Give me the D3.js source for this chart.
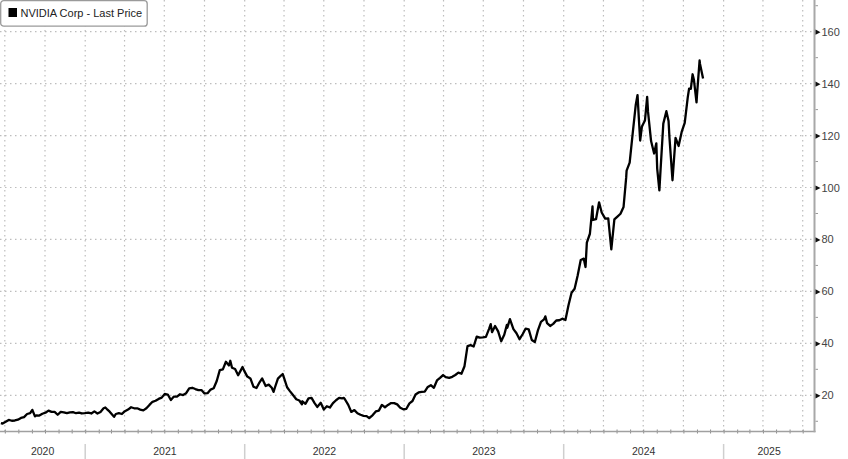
<!DOCTYPE html>
<html>
<head>
<meta charset="utf-8">
<script src="https://cdn.jsdelivr.net/npm/d3@7/dist/d3.min.js"></script>
<style>
  html, body { margin: 0; padding: 0; background: #fff; }
  svg { display: block; font-family: "Liberation Sans", Arial, sans-serif; }
</style>
</head>
<body>
<svg id="chart" width="848" height="459"></svg>
<script>
// ---- data (NVIDIA Corp last price, split adjusted) ----
const seriesName = "NVIDIA Corp - Last Price";
const dates = [
"2020-06-22","2020-06-26","2020-07-02","2020-07-10","2020-07-17","2020-07-24","2020-07-31","2020-08-07","2020-08-14","2020-08-21","2020-08-28","2020-09-02","2020-09-08","2020-09-11","2020-09-18","2020-09-25","2020-10-02","2020-10-09","2020-10-16","2020-10-23","2020-10-30","2020-11-06","2020-11-13","2020-11-20","2020-11-27","2020-12-04","2020-12-11","2020-12-18","2020-12-24","2020-12-31",
"2021-01-08","2021-01-15","2021-01-22","2021-01-29","2021-02-05","2021-02-12","2021-02-16","2021-02-19","2021-02-26","2021-03-05","2021-03-08","2021-03-12","2021-03-19","2021-03-26","2021-04-01","2021-04-09","2021-04-16","2021-04-23","2021-04-30","2021-05-07","2021-05-14","2021-05-21","2021-05-28","2021-06-04","2021-06-11","2021-06-18","2021-06-25","2021-07-02","2021-07-09","2021-07-16","2021-07-23","2021-07-30","2021-08-06","2021-08-13","2021-08-20","2021-08-27","2021-09-03","2021-09-10","2021-09-17","2021-09-24","2021-10-01","2021-10-08","2021-10-15","2021-10-22","2021-10-29","2021-11-05","2021-11-12","2021-11-19","2021-11-26","2021-11-29","2021-12-03","2021-12-10","2021-12-17","2021-12-23","2021-12-27","2021-12-31",
"2022-01-07","2022-01-14","2022-01-21","2022-01-28","2022-02-04","2022-02-10","2022-02-18","2022-02-25","2022-03-04","2022-03-08","2022-03-11","2022-03-18","2022-03-25","2022-03-29","2022-04-01","2022-04-08","2022-04-14","2022-04-22","2022-04-29","2022-05-06","2022-05-12","2022-05-13","2022-05-20","2022-05-27","2022-06-03","2022-06-10","2022-06-16","2022-06-24","2022-07-01","2022-07-08","2022-07-15","2022-07-22","2022-07-29","2022-08-05","2022-08-12","2022-08-16","2022-08-19","2022-08-26","2022-09-02","2022-09-09","2022-09-16","2022-09-23","2022-09-30","2022-10-07","2022-10-13","2022-10-21","2022-10-28","2022-11-04","2022-11-11","2022-11-18","2022-11-25","2022-12-02","2022-12-09","2022-12-16","2022-12-23","2022-12-30",
"2023-01-06","2023-01-13","2023-01-20","2023-01-27","2023-02-03","2023-02-10","2023-02-17","2023-02-24","2023-03-03","2023-03-10","2023-03-17","2023-03-24","2023-03-31","2023-04-06","2023-04-14","2023-04-21","2023-04-28","2023-05-05","2023-05-12","2023-05-19","2023-05-25","2023-05-26","2023-06-02","2023-06-09","2023-06-16","2023-06-23","2023-06-30","2023-07-07","2023-07-14","2023-07-18","2023-07-21","2023-07-28","2023-08-04","2023-08-11","2023-08-18","2023-08-24","2023-08-25","2023-08-31","2023-09-08","2023-09-15","2023-09-22","2023-09-29","2023-10-06","2023-10-13","2023-10-20","2023-10-27","2023-11-03","2023-11-10","2023-11-17","2023-11-20","2023-11-24","2023-12-01","2023-12-08","2023-12-15","2023-12-22","2023-12-29",
"2024-01-05","2024-01-12","2024-01-19","2024-01-26","2024-02-02","2024-02-09","2024-02-16","2024-02-20","2024-02-23","2024-03-01","2024-03-07","2024-03-08","2024-03-15","2024-03-22","2024-03-28","2024-04-05","2024-04-12","2024-04-19","2024-04-26","2024-05-03","2024-05-10","2024-05-17","2024-05-23","2024-05-24","2024-05-31","2024-06-07","2024-06-14","2024-06-18","2024-06-21","2024-06-24","2024-06-28","2024-07-05","2024-07-10","2024-07-12","2024-07-19","2024-07-26","2024-07-31","2024-08-02","2024-08-07","2024-08-09","2024-08-16","2024-08-23","2024-08-28","2024-08-30","2024-09-06","2024-09-13","2024-09-20","2024-09-27","2024-10-04","2024-10-11","2024-10-14","2024-10-18","2024-10-22","2024-10-25","2024-10-31","2024-11-01","2024-11-07","2024-11-08","2024-11-15"
];
const prices = [
9.3,9.1,9.7,10.5,10.2,10.3,10.6,11.3,11.6,12.8,13.1,14.4,11.9,12.3,12.2,12.9,13.3,14.1,13.6,13.6,12.5,13.6,13.4,13.1,13.4,13.5,13.1,13.3,13.0,13.1,
13.3,13.0,13.8,13.0,13.6,15.0,15.3,14.8,13.7,12.3,11.7,12.8,13.1,12.8,13.8,14.5,15.4,15.0,15.0,14.5,14.2,15.0,16.3,17.5,17.9,18.6,19.1,20.5,20.3,18.2,19.5,19.5,20.4,20.1,20.8,22.7,22.9,22.4,22.0,22.0,20.7,20.8,22.2,22.7,25.5,29.7,30.0,32.9,31.5,33.3,30.6,30.1,27.7,29.6,30.9,29.4,
27.2,26.5,23.3,22.8,25.0,26.5,23.6,24.1,22.9,21.3,22.9,26.4,27.6,28.2,26.7,23.1,21.7,20.0,18.5,18.0,16.5,17.7,16.7,18.8,19.0,17.0,15.5,17.1,14.5,15.8,15.3,17.0,18.1,19.0,18.8,19.0,18.3,16.3,13.6,14.3,13.1,12.5,12.1,12.0,11.2,12.4,13.8,14.1,16.3,15.4,16.3,17.0,17.0,16.5,15.2,14.6,
14.8,16.9,17.8,20.3,21.1,21.3,21.4,23.2,23.9,22.9,25.7,26.7,27.8,27.0,26.7,27.1,27.8,28.7,28.3,31.2,38.0,38.9,39.3,38.8,42.6,42.2,42.3,42.5,45.5,47.4,44.3,46.7,44.6,40.8,43.3,47.1,46.0,49.3,45.5,43.9,41.6,43.5,45.7,45.4,41.3,40.5,45.0,48.3,49.2,50.4,47.8,46.7,47.5,48.8,48.9,49.5,
49.0,54.7,59.5,61.0,66.1,72.1,72.6,69.4,78.8,82.2,92.7,87.5,87.8,94.3,90.4,88.0,88.1,76.2,87.7,88.8,89.9,92.5,103.8,106.5,109.6,120.9,131.9,135.6,126.6,118.1,123.5,125.8,134.9,129.2,117.9,113.1,117.0,107.3,98.9,104.8,124.6,129.4,125.6,119.4,102.8,119.1,116.0,121.4,124.9,134.8,138.1,138.0,143.6,141.5,132.8,135.4,148.9,147.6,142.0
];
const yTickValues = [20, 40, 60, 80, 100, 120, 140, 160];
const yMinorValues = [10, 30, 50, 70, 90, 110, 130, 150, 170];
const yearLabels = ["2020", "2021", "2022", "2023", "2024", "2025"];

// ---- layout ----
const W = 848, H = 459;
const plotRight = 814.5, plotBottom = 431.5;
const parse = d3.timeParse("%Y-%m-%d");
const data = dates.map((d, i) => ({ date: parse(d), value: prices[i] }));

const x = d3.scaleTime()
  .domain([new Date(2020, 5, 20), new Date(2025, 6, 28)])
  .range([0, plotRight]);
const y = d3.scaleLinear()
  .domain([6.06, 172.2])
  .range([plotBottom, 0]);

const svg = d3.select("#chart");
svg.append("rect").attr("width", W).attr("height", H).attr("fill", "#fff");

// grid
const gridColor = "#bdbdbd";
const quarters = d3.timeMonth.every(3).range(new Date(2020, 6, 1), x.domain()[1]);
svg.append("g").selectAll("line").data(quarters).join("line")
  .attr("x1", d => x(d)).attr("x2", d => x(d))
  .attr("y1", 0).attr("y2", plotBottom)
  .attr("stroke", gridColor).attr("stroke-width", 1.2)
  .attr("stroke-dasharray", "1.5,3.5");
svg.append("g").selectAll("line").data(yTickValues).join("line")
  .attr("x1", 0).attr("x2", plotRight)
  .attr("y1", d => y(d)).attr("y2", d => y(d))
  .attr("stroke", gridColor).attr("stroke-width", 1.2)
  .attr("stroke-dasharray", "1.5,3.5");

// price line
const line = d3.line().x(d => x(d.date)).y(d => y(d.value)).curve(d3.curveLinear);
svg.append("path").datum(data)
  .attr("d", line)
  .attr("fill", "none")
  .attr("stroke", "#000")
  .attr("stroke-width", 2.3)
  .attr("stroke-linejoin", "round");

// bottom axis (monthly minor ticks)
const xAxis = d3.axisBottom(x)
  .ticks(d3.timeMonth.every(1))
  .tickSize(4).tickSizeOuter(0)
  .tickFormat("");
const gx = svg.append("g").attr("transform", `translate(0,${plotBottom - 2})`).call(xAxis);
gx.select(".domain").remove();
gx.selectAll(".tick line").attr("stroke", "#8a8a8a").attr("stroke-width", 1);
svg.append("line")
  .attr("x1", 0).attr("x2", plotRight + 1)
  .attr("y1", plotBottom).attr("y2", plotBottom)
  .attr("stroke", "#a0a0a0").attr("stroke-width", 1.6);

// year separators and labels
const yearStarts = yearLabels.map(yl => new Date(+yl, 0, 1));
svg.append("g").selectAll("line").data(yearStarts.slice(1)).join("line")
  .attr("x1", d => x(d)).attr("x2", d => x(d))
  .attr("y1", 444).attr("y2", 459)
  .attr("stroke", "#cfcfcf").attr("stroke-width", 1.5);
svg.append("g").selectAll("text").data(yearLabels).join("text")
  .attr("x", (d, i) => {
    const a = Math.max(x(yearStarts[i]), 0);
    const b = i < yearLabels.length - 1 ? x(yearStarts[i + 1]) : plotRight;
    return (a + b) / 2;
  })
  .attr("y", 454.5)
  .attr("text-anchor", "middle")
  .attr("font-size", "10.5px")
  .attr("fill", "#333")
  .text(d => d);

// right axis
svg.append("line")
  .attr("x1", plotRight).attr("x2", plotRight)
  .attr("y1", 0).attr("y2", plotBottom + 0.8)
  .attr("stroke", "#a8a8a8").attr("stroke-width", 2);
const yAxis = d3.axisRight(y).tickValues(yTickValues).tickSize(0).tickPadding(7);
const gy = svg.append("g").attr("transform", `translate(${plotRight},0)`).call(yAxis);
gy.select(".domain").remove();
gy.selectAll(".tick text")
  .attr("font-size", "11px")
  .attr("fill", "#444")
  .attr("font-family", "\"Liberation Sans\", Arial, sans-serif");
gy.selectAll(".tick").append("path")
  .attr("d", "M1,-2.6L6,0L1,2.6Z")
  .attr("fill", "#111");
svg.append("g").selectAll("line").data(yMinorValues).join("line")
  .attr("x1", plotRight + 1).attr("x2", plotRight + 3.5)
  .attr("y1", d => y(d)).attr("y2", d => y(d))
  .attr("stroke", "#999").attr("stroke-width", 1);

// legend
const lg = svg.append("g");
lg.append("rect")
  .attr("x", 0.7).attr("y", 0.7).attr("width", 146.5).attr("height", 25.5)
  .attr("rx", 3).attr("fill", "#fff")
  .attr("stroke", "#9a9a9a").attr("stroke-width", 1.3);
lg.append("rect")
  .attr("x", 8.5).attr("y", 8).attr("width", 8.5).attr("height", 9)
  .attr("fill", "#000");
lg.append("text")
  .attr("x", 20.5).attr("y", 17)
  .attr("font-size", "11px")
  .attr("fill", "#222")
  .text(seriesName);
</script>
</body>
</html>
